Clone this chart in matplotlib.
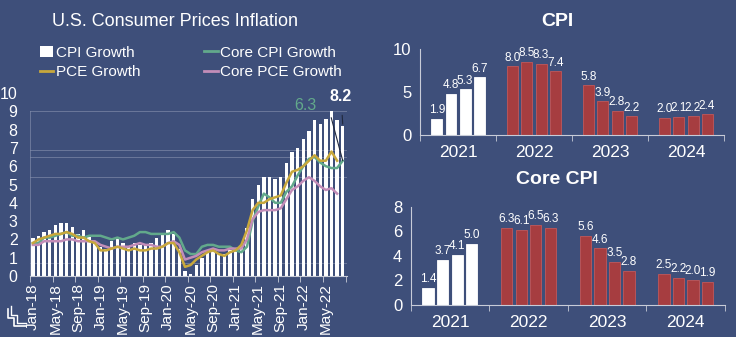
import numpy as np
import matplotlib.pyplot as plt
from matplotlib.lines import Line2D
from matplotlib.patches import Patch

plt.rcParams['font.family'] = ['Liberation Sans', 'DejaVu Sans']

BG = '#3E4F7A'
GREEN = '#62A98B'
GOLD = '#C8A83C'
PINK = '#C38DB8'
RED = '#A63D40'

# ---- monthly data, Jan-18 .. Aug-22 ----
month_labels = ['Jan-18', 'May-18', 'Sep-18', 'Jan-19', 'May-19', 'Sep-19', 'Jan-20',
                'May-20', 'Sep-20', 'Jan-21', 'May-21', 'Sep-21', 'Jan-22', 'May-22']

cpi = [2.1, 2.2, 2.4, 2.5, 2.8, 2.9, 2.9, 2.7, 2.3, 2.5, 2.2, 1.9,
       1.6, 1.5, 1.9, 2.0, 1.8, 1.6, 1.8, 1.7, 1.7, 1.8, 2.1, 2.3,
       2.5, 2.3, 1.5, 0.3, 0.1, 0.6, 1.0, 1.3, 1.4, 1.2, 1.2, 1.4,
       1.4, 1.7, 2.6, 4.2, 5.0, 5.4, 5.4, 5.3, 5.4, 6.2, 6.8, 7.0,
       7.5, 7.9, 8.5, 8.3, 8.6, 9.0, 8.5, 8.2]
core_cpi = [1.8, 1.8, 2.1, 2.1, 2.2, 2.3, 2.4, 2.2, 2.2, 2.1, 2.2, 2.2,
            2.2, 2.1, 2.0, 2.1, 2.0, 2.1, 2.2, 2.4, 2.4, 2.3, 2.3, 2.3,
            2.3, 2.4, 2.1, 1.4, 1.2, 1.2, 1.6, 1.7, 1.7, 1.6, 1.6, 1.6,
            1.4, 1.3, 1.6, 3.0, 3.8, 4.5, 4.3, 4.0, 4.0, 4.6, 4.9, 5.5,
            6.0, 6.4, 6.5, 6.2, 6.0, 5.9, 5.9, 6.3]
pce = [1.8, 2.0, 2.1, 2.2, 2.3, 2.3, 2.4, 2.3, 2.1, 2.1, 1.9, 1.8,
       1.4, 1.4, 1.5, 1.6, 1.5, 1.4, 1.5, 1.4, 1.4, 1.5, 1.5, 1.6,
       1.8, 1.8, 1.3, 0.5, 0.6, 0.9, 1.1, 1.3, 1.4, 1.2, 1.1, 1.3,
       1.4, 1.7, 2.5, 3.6, 4.0, 4.0, 4.2, 4.3, 4.4, 5.1, 5.7, 5.8,
       6.0, 6.3, 6.6, 6.3, 6.3, 6.8, 6.3, np.nan]
core_pce = [1.7, 1.7, 1.9, 1.9, 1.9, 1.9, 2.0, 2.0, 1.9, 1.9, 1.9, 1.9,
            1.7, 1.6, 1.5, 1.6, 1.6, 1.6, 1.7, 1.8, 1.7, 1.7, 1.6, 1.6,
            1.8, 1.9, 1.7, 0.9, 1.0, 1.1, 1.3, 1.4, 1.5, 1.4, 1.4, 1.5,
            1.5, 1.5, 2.0, 3.1, 3.5, 3.6, 3.6, 3.6, 3.7, 4.2, 4.7, 4.9,
            5.2, 5.4, 5.2, 4.9, 4.7, 4.8, 4.5, np.nan]

# ---- forecast panels ----
years = ['2021', '2022', '2023', '2024']
cpi_q = [1.9, 4.8, 5.3, 6.7, 8.0, 8.5, 8.3, 7.4, 5.8, 3.9, 2.8, 2.2, 2.0, 2.1, 2.2, 2.4]
core_q = [1.4, 3.7, 4.1, 5.0, 6.3, 6.1, 6.5, 6.3, 5.6, 4.6, 3.5, 2.8, 2.5, 2.2, 2.0, 1.9]

fig = plt.figure(figsize=(7.36, 3.37), dpi=100, facecolor=BG)

# ================= left chart =================
ax = fig.add_axes([0.0408, 0.181, 0.431, 0.543], facecolor=BG)
x = np.arange(len(cpi))
ax.bar(x, cpi, width=0.6, color='white', zorder=2)
ax.plot(x, core_cpi, color=GREEN, lw=1.8, zorder=3)
ax.plot(x, core_pce, color=PINK, lw=1.8, zorder=3)
ax.plot(x, pce, color=GOLD, lw=1.8, zorder=4)

# faint box / grid remnants
for lvl in [9.0, 6.9, 6.5, 5.4, 0.7]:
    ax.axhline(lvl, color='#8893B0', lw=0.6, alpha=0.7, zorder=1)
ax.plot([-0.5, -0.5], [0, 9.0], color='#8893B0', lw=0.6, alpha=0.7)
ax.plot([55.7, 55.7], [0, 9.0], color='#8893B0', lw=0.6, alpha=0.7)

ax.set_xlim(-0.5, 55.8)
ax.set_ylim(0, 10)
ax.set_yticks(range(0, 11))
ax.tick_params(axis='y', length=0, pad=9, labelsize=11.5, colors='white')
ax.set_xticks(np.arange(0, 56, 4))
ax.set_xticklabels(month_labels, rotation=90, fontsize=11, color='white')
ax.set_xticks(np.arange(-0.5, 56, 4), minor=True)
ax.tick_params(axis='x', which='major', length=0, pad=5)
ax.tick_params(axis='x', which='minor', length=4, color='#C8CCD8', direction='out')
for s in ['top', 'right', 'left']:
    ax.spines[s].set_visible(False)
ax.spines['bottom'].set_color('#C8CCD8')

ax.annotate('6.3', xy=(55, 6.3), xytext=(48.4, 9.3), color=GREEN, fontsize=11.5,
            ha='center', va='center', annotation_clip=False,
            arrowprops=dict(arrowstyle='-', color='#20283D', lw=0.8,
                            shrinkA=12, shrinkB=0,
                            connectionstyle='angle,angleA=0,angleB=105,rad=0'))
ax.annotate('8.2', xy=(55, 8.3), xytext=(54.7, 9.8), color='white', fontsize=11.5,
            fontweight='bold', ha='center', va='center', annotation_clip=False,
            arrowprops=dict(arrowstyle='-', color='#20283D', lw=0.8,
                            shrinkA=6, shrinkB=0))

handles = [Patch(facecolor='white', edgecolor='none'),
           Line2D([], [], color=GOLD, lw=2),
           Line2D([], [], color=GREEN, lw=2),
           Line2D([], [], color=PINK, lw=2)]
labels = ['CPI Growth', 'PCE Growth', 'Core CPI Growth', 'Core PCE Growth']
fig.legend(handles, labels, ncol=2, loc='upper left', bbox_to_anchor=(0.035, 0.905),
           frameon=False, fontsize=11, labelcolor='white', handlelength=0.9,
           handletextpad=0.15, columnspacing=4.2, labelspacing=0.35)

fig.text(0.238, 0.935, 'U.S. Consumer Prices Inflation', color='white', fontsize=13,
         ha='center', va='center')

# step icon
fig.add_artist(Line2D([8/736, 8/736, 14/736, 14/736, 26/736],
                      [1-309/337, 1-318/337, 1-318/337, 1-326/337, 1-326/337],
                      color='white', lw=1.2, transform=fig.transFigure))
fig.add_artist(Line2D([11/736, 11/736, 17/736, 17/736, 26/736],
                      [1-306/337, 1-315/337, 1-315/337, 1-323/337, 1-323/337],
                      color='white', lw=1.0, transform=fig.transFigure))


# ================= right charts =================
def forecast_panel(rect, vals, ymax, yticks, title, title_y):
    a = fig.add_axes(rect, facecolor=BG)
    pos = []
    for g in range(4):
        c = g * 5.4 + 2.7
        pos += [c - 1.5, c - 0.5, c + 0.5, c + 1.5]
    cols = ['white'] * 4 + [RED] * 12
    edges = ['white'] * 4 + ['#C0585A'] * 12
    a.bar(pos, vals, width=0.78, color=cols, edgecolor=edges, linewidth=0.6)
    for p, v in zip(pos, vals):
        a.text(p, v + ymax * 0.03, f'{v:.1f}', color='white', fontsize=8.5,
               ha='center', va='bottom')
    a.set_xlim(0, 21.6)
    a.set_ylim(0, ymax)
    a.set_yticks(yticks)
    a.tick_params(axis='y', length=0, pad=6, labelsize=12, colors='white')
    a.set_xticks([g * 5.4 + 2.7 for g in range(4)])
    a.set_xticklabels(years, fontsize=12.5, color='white')
    a.set_xticks([g * 5.4 for g in range(5)], minor=True)
    a.tick_params(axis='x', which='major', length=0, pad=7)
    a.tick_params(axis='x', which='minor', length=4, color='#C8CCD8', direction='out')
    for s in ['top', 'right']:
        a.spines[s].set_visible(False)
    a.spines['bottom'].set_color('#C8CCD8')
    a.spines['left'].set_color('#C8CCD8')
    fig.text(0.757, title_y, title, color='white', fontsize=14,
             fontweight='bold', ha='center', va='center')
    return a


forecast_panel([0.5707, 0.5994, 0.413, 0.255], cpi_q, 10, [0, 5, 10], 'CPI', 0.935)
forecast_panel([0.558, 0.095, 0.427, 0.2917], core_q, 8, [0, 2, 4, 6, 8], 'Core CPI', 0.468)

fig.savefig('out.png', dpi=100, facecolor=BG)
